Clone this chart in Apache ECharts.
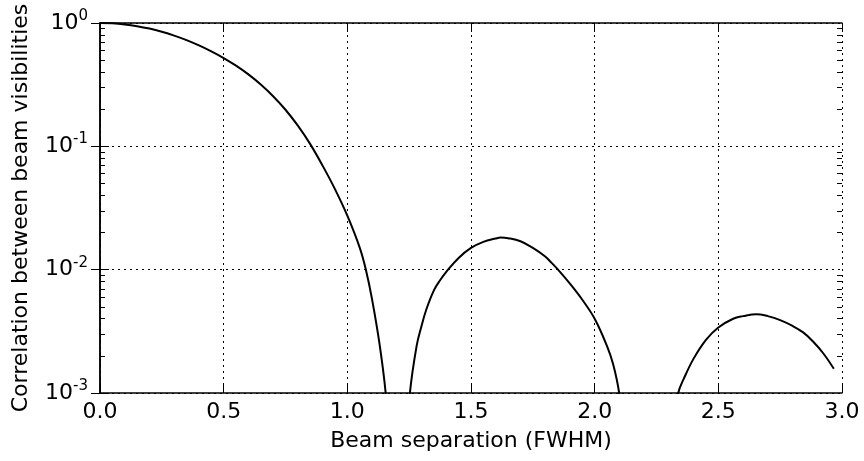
<!DOCTYPE html>
<html>
<head>
<meta charset="utf-8">
<script src="https://cdn.jsdelivr.net/npm/echarts@6/dist/echarts.min.js"></script>
<style>
html,body{margin:0;padding:0;background:#fff;}
#chart{width:864px;height:461px;}
</style>
</head>
<body>
<div id="chart"></div>
<script>
// Main lobe (near-zero value at the null)
var sepMain  = [0, 0.05, 0.1, 0.15, 0.2, 0.25, 0.3, 0.35, 0.4, 0.45, 0.5, 0.55, 0.6, 0.65, 0.7, 0.75, 0.8, 0.85, 0.9, 0.95, 1.0, 1.05, 1.075, 1.1, 1.13, 1.155, 1.175, 1.205];
var corrMain = [1.0, 0.9936, 0.974, 0.943, 0.901, 0.849, 0.790, 0.726, 0.658, 0.589, 0.520, 0.451, 0.383, 0.317, 0.255, 0.198, 0.147, 0.1042, 0.0697, 0.0450, 0.0274, 0.0151, 0.0100, 0.00575, 0.00251, 0.0010, 0.0003, 0.000001];
// First side lobe
var sepSide1  = [1.205, 1.235, 1.253, 1.28, 1.30, 1.32, 1.35, 1.375, 1.40, 1.45, 1.50, 1.55, 1.60, 1.62, 1.65, 1.70, 1.75, 1.80, 1.825, 1.85, 1.90, 1.95, 2.00, 2.05, 2.075, 2.099, 2.12, 2.22];
var corrSide1 = [0.000001, 0.0003, 0.0010, 0.0024, 0.0035, 0.0048, 0.0068, 0.0082, 0.0096, 0.01245, 0.0150, 0.0168, 0.0179, 0.0182, 0.0180, 0.0170, 0.0150, 0.0128, 0.0114, 0.0101, 0.0077, 0.0057, 0.0040, 0.0024, 0.0017, 0.0010, 0.0004, 0.000001];
// Second side lobe
var sepSide2  = [2.22, 2.31, 2.338, 2.36, 2.40, 2.45, 2.50, 2.56, 2.60, 2.654, 2.70, 2.75, 2.80, 2.843, 2.88, 2.924, 2.967];
var corrSide2 = [0.000001, 0.0004, 0.0010, 0.0013, 0.0019, 0.0027, 0.0034, 0.0040, 0.0042, 0.00436, 0.0042, 0.0039, 0.0035, 0.0031, 0.00265, 0.0021, 0.00157];
// Axis ticks
var yMinorTicks = [0.002,0.003,0.004,0.005,0.006,0.007,0.008,0.009,0.02,0.03,0.04,0.05,0.06,0.07,0.08,0.09,0.2,0.3,0.4,0.5,0.6,0.7,0.8,0.9];

function pairs(xs, ys){ return xs.map(function(x,i){ return [x, ys[i]]; }); }

var FONT = 'DejaVu Sans';
var lineStyleAxis = {color:'#000', width:1.5};
var dotted = {color:'#000', width:1, type:[2,4]};

function lineSeries(d){
  return {type:'line', data:d, showSymbol:false, symbol:'none', clip:true, smooth:0.4,
          lineStyle:{color:'#000', width:2}, animation:false, xAxisIndex:0, yAxisIndex:0};
}

var chart = echarts.init(document.getElementById('chart'), null, {renderer:'canvas'});
chart.setOption({
  animation:false,
  backgroundColor:'#fff',
  grid:{left:100, right:22, top:23, bottom:68, containLabel:false},
  xAxis:[{
    type:'value', position:'bottom', min:0, max:3, interval:0.5,
    name:'Beam separation (FWHM)', nameLocation:'middle', nameGap:37,
    nameTextStyle:{fontFamily:FONT, fontSize:22, color:'#000'},
    axisLine:{show:true, lineStyle:lineStyleAxis},
    axisTick:{show:true, inside:true, length:9, lineStyle:{color:'#000', width:1}},
    axisLabel:{fontFamily:FONT, fontSize:22, color:'#000', margin:8, showMinLabel:true, showMaxLabel:true,
      formatter:function(v){ return v.toFixed(1); }},
    splitLine:{show:true, lineStyle:dotted}
  },{
    type:'value', position:'top', min:0, max:3, interval:0.5,
    axisLine:{show:true, lineStyle:lineStyleAxis},
    axisTick:{show:true, inside:true, length:9, lineStyle:{color:'#000', width:1}},
    axisLabel:{show:false}, splitLine:{show:false}
  }],
  yAxis:[{
    type:'log', logBase:10, position:'left', min:0.001, max:1,
    name:'Correlation between beam visibilities', nameLocation:'middle', nameGap:68,
    nameTextStyle:{fontFamily:FONT, fontSize:22, color:'#000'},
    axisLine:{show:true, lineStyle:lineStyleAxis},
    axisTick:{show:true, inside:true, length:9, lineStyle:{color:'#000', width:1}},
    axisLabel:{margin:12, showMinLabel:true, showMaxLabel:true,
      formatter:function(v){ return '{b|10}{s|' + Math.round(Math.log10(v)) + '}'; },
      rich:{
        b:{fontFamily:FONT, fontSize:22, color:'#000'},
        s:{fontFamily:FONT, fontSize:15, color:'#000', padding:[0,0,14,0]}
      }},
    splitLine:{show:true, lineStyle:dotted}
  },{
    type:'log', logBase:10, position:'right', min:0.001, max:1,
    axisLine:{show:true, lineStyle:lineStyleAxis},
    axisTick:{show:true, inside:true, length:9, lineStyle:{color:'#000', width:1}},
    axisLabel:{show:false}, splitLine:{show:false}
  },{
    type:'log', logBase:10, position:'left', min:0.001, max:1,
    axisLine:{show:false},
    axisTick:{show:true, inside:true, length:5, customValues:yMinorTicks, lineStyle:{color:'#000', width:1}},
    axisLabel:{show:false}, splitLine:{show:false}
  },{
    type:'log', logBase:10, position:'right', min:0.001, max:1,
    axisLine:{show:false},
    axisTick:{show:true, inside:true, length:5, customValues:yMinorTicks, lineStyle:{color:'#000', width:1}},
    axisLabel:{show:false}, splitLine:{show:false}
  }],
  series:[
    lineSeries(pairs(sepMain, corrMain)),
    lineSeries(pairs(sepSide1, corrSide1)),
    lineSeries(pairs(sepSide2, corrSide2))
  ]
});
</script>
</body>
</html>
